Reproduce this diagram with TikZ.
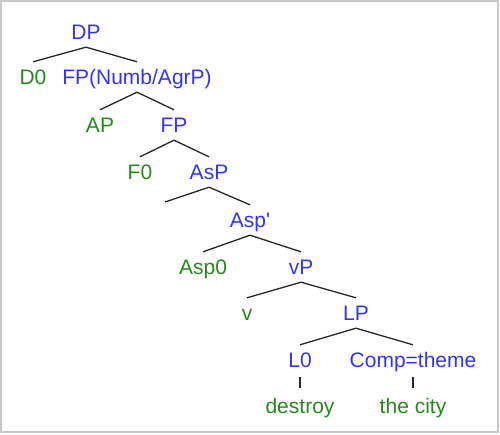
\documentclass[tikz,border=0pt]{standalone}
\usepackage{fontspec}
\setmainfont{Liberation Sans}
\definecolor{catblue}{RGB}{51,51,255}
\definecolor{leafgreen}{RGB}{40,135,30}
\definecolor{framegray}{RGB}{200,200,200}
\begin{document}
\begin{tikzpicture}[x=1pt,y=-1pt,
  lbl/.style={inner sep=0pt, minimum height=30pt, text height=14pt, text depth=0pt, anchor=base, font=\fontsize{21}{24}\selectfont},
  cat/.style={lbl, text=catblue},
  leaf/.style={lbl, text=leafgreen},
  branch/.style={line width=1.3pt, draw=black!85},
  stem/.style={branch, shorten <=2pt, shorten >=3pt}]
\useasboundingbox (0,0) rectangle (500,434);
\draw[framegray, line width=1.5pt] (1,1) rectangle (498,432);
\node[cat]  (dp)    at (86,39)   {DP};
\node[leaf] (d0)    at (33,84)   {D0};
\node[cat]  (fpn)   at (137,84)  {FP(Numb/AgrP)};
\node[leaf] (ap)    at (100,132) {AP};
\node[cat]  (fp)    at (174,132) {FP};
\node[leaf] (f0)    at (140,179) {F0};
\node[cat]  (asp)   at (209,179) {AsP};
\coordinate (aspl)  at (165,202);
\node[cat]  (aspb)  at (250,227) {Asp\textquotesingle};
\node[leaf] (asp0)  at (203,274) {Asp0};
\node[cat]  (vp)    at (301,274) {vP};
\node[leaf] (v)     at (247,320) {v};
\node[cat]  (lp)    at (356,320) {LP};
\node[cat]  (l0)    at (300,367) {L0};
\node[cat]  (comp)  at (413,367) {Comp=theme};
\node[leaf] (destroy) at (300,413) {destroy};
\node[leaf] (city)  at (413,413) {the city};
\draw[branch] (d0.north) -- (dp.south) -- (fpn.north);
\draw[branch] (ap.north) -- (fpn.south) -- (fp.north);
\draw[branch] (f0.north) -- (fp.south) -- (asp.north);
\draw[branch] (aspl) -- (asp.south) -- (aspb.north);
\draw[branch] (asp0.north) -- (aspb.south) -- (vp.north);
\draw[branch] (v.north) -- (vp.south) -- (lp.north);
\draw[branch] (l0.north) -- (lp.south) -- (comp.north);
\draw[stem] (l0.south) -- (destroy.north);
\draw[stem] (comp.south) -- (city.north);
\end{tikzpicture}
\end{document}
